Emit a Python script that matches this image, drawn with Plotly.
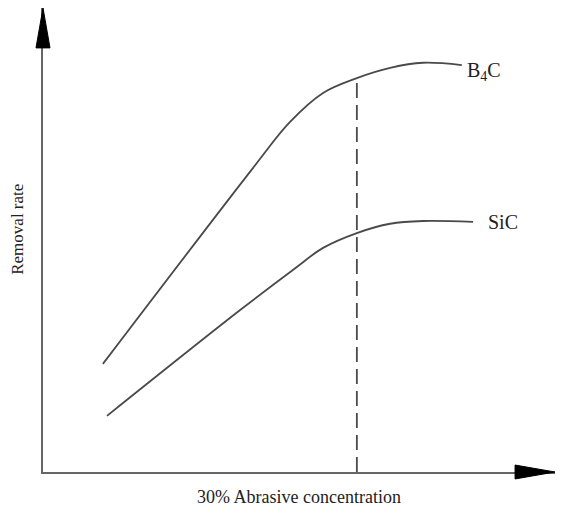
import plotly.graph_objects as go

# Curvas cualitativas (unidades arbitrarias, ejes de 0 a 10)
b4c_x = [1.17, 4.10, 4.82, 5.47, 6.13, 6.78, 7.42, 8.18]
b4c_y = [2.33, 6.55, 7.54, 8.17, 8.49, 8.71, 8.82, 8.77]
sic_x = [1.25, 3.85, 4.90, 5.47, 6.13, 6.78, 7.42, 8.40]
sic_y = [1.21, 3.49, 4.37, 4.83, 5.15, 5.35, 5.41, 5.39]
dash_x = 6.13  # 30% de concentración
labels = ["B<sub>4</sub>C", "SiC"]

line_color = "#4a4a4a"
serif = "Liberation Serif, Times New Roman, serif"

fig = go.Figure()
for xs, ys in [(b4c_x, b4c_y), (sic_x, sic_y)]:
    fig.add_trace(go.Scatter(x=xs, y=ys, mode="lines",
                             line=dict(color=line_color, width=1.8, shape="spline", smoothing=1)))
fig.add_trace(go.Scatter(x=[dash_x, dash_x], y=[0, b4c_y[4]], mode="lines",
                         line=dict(color=line_color, width=1.8, dash="15px,7px")))

# la página tiene un margen de 8 px en el body
fig.update_layout(
    width=561, height=506,
    margin=dict(l=35, r=14, t=0, b=42),
    paper_bgcolor="white", plot_bgcolor="white",
    showlegend=False,
    xaxis=dict(range=[0, 10], showgrid=False, zeroline=False, showticklabels=False,
               ticks="", showline=True, linecolor="#666", linewidth=2),
    yaxis=dict(range=[0, 10], showgrid=False, zeroline=False, showticklabels=False,
               ticks="", showline=True, linecolor="#666", linewidth=2),
    font=dict(family=serif, size=18, color="#222"),
)

# Flechas de los ejes
fig.add_shape(type="path", xref="paper", yref="paper",
              path="M -0.0137,0.914 L 0,1 L 0.0137,0.914 Z",
              fillcolor="black", line=dict(color="black", width=1))
fig.add_shape(type="path", xref="paper", yref="paper",
              path="M 0.922,-0.015 L 1,0 L 0.922,0.015 Z",
              fillcolor="black", line=dict(color="black", width=1))

# Etiquetas de las curvas
fig.add_annotation(x=b4c_x[-1], y=b4c_y[-1], text=labels[0], showarrow=False,
                   xanchor="left", xshift=3, yshift=-6,
                   font=dict(family=serif, size=20, color="#222"))
fig.add_annotation(x=sic_x[-1], y=sic_y[-1], text=labels[1], showarrow=False,
                   xanchor="left", xshift=13,
                   font=dict(family=serif, size=20, color="#222"))

# Títulos de los ejes
fig.add_annotation(x=0.5, y=-0.054, xref="paper", yref="paper", text="30% Abrasive concentration",
                   showarrow=False, yanchor="middle",
                   font=dict(family=serif, size=18, color="#222"))
fig.add_annotation(x=-0.049, y=0.524, xref="paper", yref="paper", text="Removal rate",
                   showarrow=False, textangle=-90, xanchor="center", yanchor="middle",
                   font=dict(family=serif, size=17, color="#222"))

fig.write_html("out.html")
